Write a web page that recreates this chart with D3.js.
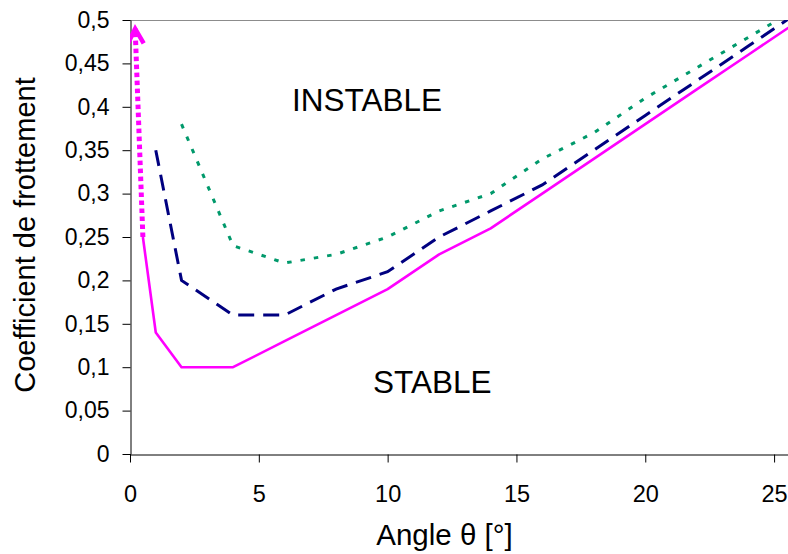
<!DOCTYPE html>
<html>
<head>
<meta charset="utf-8">
<script src="https://cdn.jsdelivr.net/npm/d3@7"></script>
<style>
  html, body { margin: 0; padding: 0; background: #fff; }
  svg { display: block; font-family: "Liberation Sans", Arial, sans-serif; }
</style>
</head>
<body>
<svg id="chart" width="788" height="554"></svg>
<script>
// ---- data ----
const stableAngles   = [0.5, 1, 2, 4, 6, 8, 10, 12, 14, 16, 18, 20, 22, 24, 26];
const stableCoef     = [0.25, 0.14, 0.10, 0.10, 0.13, 0.16, 0.19, 0.23, 0.26, 0.30, 0.34, 0.38, 0.42, 0.46, 0.50];
const dashedAngles   = [1, 2, 4, 6, 8, 10, 12, 14, 16, 18, 20, 22, 24, 26];
const dashedCoef     = [0.35, 0.20, 0.16, 0.16, 0.19, 0.21, 0.25, 0.28, 0.31, 0.35, 0.39, 0.43, 0.47, 0.51];
const dottedAngles   = [2, 4, 6, 8, 10, 12, 14, 16, 18, 20, 22, 24, 26];
const dottedCoef     = [0.38, 0.24, 0.22, 0.23, 0.25, 0.28, 0.30, 0.34, 0.37, 0.41, 0.445, 0.48, 0.515];
const arrowAngles    = [0.5, 0.2];
const arrowCoef      = [0.25, 0.49];
const xTicks = [0, 5, 10, 15, 20, 25];
const yTicks = [0, 0.05, 0.1, 0.15, 0.2, 0.25, 0.3, 0.35, 0.4, 0.45, 0.5];
const xTitle = "Angle \u03b8 [\u00b0]";
const yTitle = "Coefficient de frottement";
const regionLabels = ["INSTABLE", "STABLE"];

// ---- layout ----
const svg = d3.select("#chart");
const mLeft = 130, mRight = 788, mTop = 20, mBottom = 454;
const x = d3.scaleLinear().domain([0, 25.54]).range([mLeft, mRight]);
const y = d3.scaleLinear().domain([0, 0.5]).range([mBottom, mTop]);
const fmt = d => String(+d.toFixed(2)).replace(".", ",");

svg.append("rect").attr("width", 788).attr("height", 554).attr("fill", "#fff");

svg.append("defs").append("clipPath").attr("id", "plotclip")
  .append("rect").attr("x", mLeft).attr("y", mTop).attr("width", mRight - mLeft).attr("height", mBottom - mTop);

// top border of plot area
svg.append("line").attr("x1", mLeft).attr("x2", mRight).attr("y1", mTop + 0.5).attr("y2", mTop + 0.5)
  .attr("stroke", "#8c8c8c").attr("stroke-width", 1);

// axes
const yAxis = svg.append("g").attr("transform", `translate(${mLeft + 0.5},0)`)
  .call(d3.axisLeft(y).tickValues(yTicks).tickFormat(fmt).tickSize(8).tickSizeOuter(0).tickPadding(13));
const xAxis = svg.append("g").attr("transform", `translate(0,${mBottom + 0.5})`)
  .call(d3.axisBottom(x).tickValues(xTicks).tickFormat(fmt).tickSize(8).tickSizeOuter(0).tickPadding(23));
[yAxis, xAxis].forEach(g => {
  g.selectAll("path.domain").attr("stroke", "#000").attr("stroke-width", 1);
  g.selectAll(".tick line").attr("stroke", "#000").attr("stroke-width", 1);
  g.selectAll(".tick text").attr("fill", "#000").attr("font-family", "Liberation Sans, Arial, sans-serif");
});
yAxis.selectAll(".tick text").attr("font-size", 23);
xAxis.selectAll(".tick text").attr("font-size", 23.5);
// y axis line extends down by the tick length
svg.append("line").attr("x1", mLeft + 0.5).attr("x2", mLeft + 0.5).attr("y1", mBottom).attr("y2", mBottom + 8)
  .attr("stroke", "#000").attr("stroke-width", 1);

// series
const line = d3.line().x(d => x(d[0])).y(d => y(d[1]));
const zip = (a, b) => a.map((v, i) => [v, b[i]]);
const plot = svg.append("g").attr("clip-path", "url(#plotclip)");

plot.append("path").datum(zip(dottedAngles, dottedCoef)).attr("d", line)
  .attr("fill", "none").attr("stroke", "#00996b").attr("stroke-width", 3)
  .attr("stroke-dasharray", "4.5,9");
plot.append("path").datum(zip(dashedAngles, dashedCoef)).attr("d", line)
  .attr("fill", "none").attr("stroke", "#000080").attr("stroke-width", 3)
  .attr("stroke-dasharray", "16,9");
plot.append("path").datum(zip(stableAngles, stableCoef)).attr("d", line)
  .attr("fill", "none").attr("stroke", "#ff00ff").attr("stroke-width", 2.6)
  .attr("stroke-linejoin", "round");

// magenta dotted arrow
const arrowPts = zip(arrowAngles, arrowCoef);
const p0 = [x(arrowPts[0][0]), y(arrowPts[0][1])];
const p1 = [x(arrowPts[1][0]), y(arrowPts[1][1])];
plot.append("path").datum(arrowPts).attr("d", line)
  .attr("fill", "none").attr("stroke", "#ff00ff").attr("stroke-width", 5)
  .attr("stroke-dasharray", "4.5,3.5");
const dx = p1[0] - p0[0], dy = p1[1] - p0[1], len = Math.hypot(dx, dy);
const ux = dx / len, uy = dy / len, nx = -uy, ny = ux;
const depth = 15, half = 8;
const headPts = [
  [p1[0] - ux * depth + nx * half, p1[1] - uy * depth + ny * half],
  [p1[0], p1[1]],
  [p1[0] - ux * depth - nx * half, p1[1] - uy * depth - ny * half]
];
plot.append("path").attr("d", d3.line()(headPts))
  .attr("fill", "none").attr("stroke", "#ff00ff").attr("stroke-width", 4.5)
  .attr("stroke-linejoin", "miter").attr("stroke-linecap", "butt");

// region labels
svg.append("text").attr("x", 292).attr("y", 111).attr("font-size", 31.5).attr("fill", "#000").text(regionLabels[0]);
svg.append("text").attr("x", 373).attr("y", 393).attr("font-size", 31.5).attr("fill", "#000").text(regionLabels[1]);

// axis titles
svg.append("text").attr("x", 444.5).attr("y", 545).attr("text-anchor", "middle")
  .attr("font-size", 29.5).attr("fill", "#000").text(xTitle);
svg.append("text").attr("transform", "translate(35,235) rotate(-90)").attr("text-anchor", "middle")
  .attr("font-size", 29).attr("fill", "#000").text(yTitle);
</script>
</body>
</html>
